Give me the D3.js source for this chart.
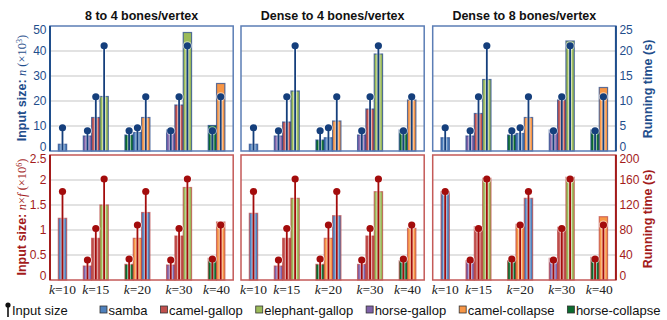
<!DOCTYPE html>
<html><head><meta charset="utf-8">
<script src="https://cdn.jsdelivr.net/npm/d3@7/dist/d3.min.js"></script>
<style>body{margin:0;background:#fff}</style>
</head><body>
<svg id="c" width="667" height="320" xmlns="http://www.w3.org/2000/svg"></svg>
<script>
// ---------- DATA ----------
const panelTitles = ["8 to 4 bones/vertex", "Dense to 4 bones/vertex", "Dense to 8 bones/vertex"];
const categories = ["10", "15", "20", "30", "40"];
const models = ["samba", "camel-gallop", "elephant-gallop", "horse-gallop", "camel-collapse", "horse-collapse"];
// models present in each k group
const groupModels = [
  ["samba"],
  ["horse-gallop", "camel-gallop", "elephant-gallop"],
  ["samba", "camel-collapse", "horse-collapse"],
  ["horse-gallop", "camel-gallop", "elephant-gallop"],
  ["camel-collapse", "horse-collapse"]
];
// input sizes, aligned with models
const inputN  = [9.3, 21.7, 42.1, 8.1, 21.7, 8.1];     // n (x10^3)
const inputNF = [1.77, 1.03, 2.02, 0.40, 1.10, 0.42];  // n x f (x10^6)
// running times (s), aligned with groupModels
const timeN_8to4 = [[1.35], [3.0, 6.7, 10.9], [3.7, 6.7, 3.2], [4.2, 9.2, 23.7], [13.5, 5.1]];
const timeN_D4   = [[1.35], [3.0, 5.8, 12.0], [2.65, 6.0, 2.2], [3.2, 8.4, 19.4], [10.2, 4.2]];
const timeN_D8   = [[2.65], [3.0, 7.5, 14.3], [3.5, 6.7, 3.2], [4.2, 10.2, 22.0], [12.7, 4.2]];
const timeNF_8to4 = [[98.7], [22.4, 66.7, 120], [108, 66.7, 25], [24, 70.4, 148], [92.8, 34.7]];
const timeNF_D4   = [[106.7], [22.4, 66.7, 130.7], [102.9, 66.7, 25], [25, 70.4, 141.3], [82.7, 30.9]];
const timeNF_D8   = [[141.3], [30.9, 85.3, 162.7], [130.7, 89, 30.9], [34.7, 84.3, 164.3], [101.3, 36.3]];
const ticksNLeft = [0, 10, 20, 30, 40, 50];
const ticksNRight = [0, 5, 10, 15, 20, 25];
const ticksNFLeft = [0, 0.5, 1, 1.5, 2, 2.5];
const ticksNFRight = [0, 40, 80, 120, 160, 200];

// ---------- STYLE / LAYOUT ----------
const colors = {
  "samba": "#4f81bd", "camel-gallop": "#c0504d", "elephant-gallop": "#9bbb59",
  "horse-gallop": "#7f62a8", "camel-collapse": "#f79646", "horse-collapse": "#0b6b2e"
};
const colX = [50, 241, 432.7], colW = 183.2;
const rows = [
  { y0: 26, y1: 151, input: inputN, times: [timeN_8to4, timeN_D4, timeN_D8],
    lTicks: ticksNLeft, rTicks: ticksNRight,
    dark: "#1f4e8c", frame: "#5b7db5", barStroke: "rgba(40,75,140,0.75)", lolli: "#153f7c" },
  { y0: 155, y1: 280, input: inputNF, times: [timeNF_8to4, timeNF_D4, timeNF_D8],
    lTicks: ticksNFLeft, rTicks: ticksNFRight,
    dark: "#a31b1b", frame: "#c45a58", barStroke: "rgba(185,60,60,0.65)", lolli: "#a30c0c" }
];

const svg = d3.select("#c");
const sans = "'Liberation Sans', Arial, sans-serif";
const serif = "'Liberation Serif', 'Times New Roman', serif";

rows.forEach((r, ri) => {
  colX.forEach((x0, c) => {
    const x1 = x0 + colW;
    const groups = categories.map((k, gi) => {
      const bars = groupModels[gi].map((m, i) => ({
        k, m, id: k + "|" + m,
        input: r.input[models.indexOf(m)],
        time: r.times[c][gi][i]
      }));
      bars.sort((a, b) => d3.ascending(a.input, b.input));
      return { k, bars };
    });
    const slots = ["pad-s"];
    groups.forEach((g, gi) => {
      if (gi > 0) slots.push("gap" + gi + "a", "gap" + gi + "b");
      g.bars.forEach(b => slots.push(b.id));
    });
    slots.push("pad-e");
    const xb = d3.scaleBand().domain(slots).range([x0, x1]);
    const bw = xb.bandwidth();
    const yL = d3.scaleLinear().domain(d3.extent(r.lTicks)).range([r.y1, r.y0]);
    const yR = d3.scaleLinear().domain(d3.extent(r.rTicks)).range([r.y1, r.y0]);

    const g = svg.append("g");
    g.selectAll("line.grid").data(r.lTicks.slice(1, -1)).join("line")
      .attr("x1", x0).attr("x2", x1)
      .attr("y1", d => yL(d)).attr("y2", d => yL(d))
      .attr("stroke", "#d9d9d9").attr("stroke-width", 1.5);

    const allBars = groups.flatMap(gr => gr.bars);
    g.selectAll("rect.bar").data(allBars).join("rect")
      .attr("x", d => xb(d.id)).attr("width", bw)
      .attr("y", d => yR(d.time)).attr("height", d => r.y1 - yR(d.time))
      .attr("fill", d => colors[d.m])
      .attr("stroke", r.barStroke).attr("stroke-width", 1.2);

    const cx = d => xb(d.id) + bw / 2;
    g.selectAll("line.halo").data(allBars).join("line")
      .attr("x1", cx).attr("x2", cx).attr("y1", r.y1).attr("y2", d => yL(d.input))
      .attr("stroke", "rgba(255,255,255,0.55)").attr("stroke-width", 4);
    g.selectAll("circle.halo").data(allBars).join("circle")
      .attr("cx", cx).attr("cy", d => yL(d.input)).attr("r", 4.6)
      .attr("fill", "rgba(255,255,255,0.55)");
    g.selectAll("line.stick").data(allBars).join("line")
      .attr("x1", cx).attr("x2", cx).attr("y1", r.y1).attr("y2", d => yL(d.input))
      .attr("stroke", r.lolli).attr("stroke-width", 1.8);
    g.selectAll("circle.head").data(allBars).join("circle")
      .attr("cx", cx).attr("cy", d => yL(d.input)).attr("r", 3.6)
      .attr("fill", r.lolli);

    g.append("rect").attr("x", x0).attr("y", r.y0).attr("width", colW).attr("height", r.y1 - r.y0)
      .attr("fill", "none").attr("stroke", r.frame).attr("stroke-width", 1.5);

    if (c === 0) {
      g.append("line").attr("x1", x0).attr("x2", x0).attr("y1", r.y0).attr("y2", r.y1)
        .attr("stroke", r.dark).attr("stroke-width", 2);
      g.selectAll("text.lt").data(r.lTicks).join("text")
        .attr("x", x0 - 3.5)
        .attr("y", d => Math.min(Math.max(yL(d), r.y0 + 4), r.y1 - 4.5))
        .attr("dy", "0.36em").attr("text-anchor", "end")
        .attr("font-family", sans).attr("font-size", 12).attr("fill", r.dark)
        .text(d => d3.format("~g")(d));
    }
    if (c === 2) {
      g.append("line").attr("x1", x1).attr("x2", x1).attr("y1", r.y0).attr("y2", r.y1)
        .attr("stroke", r.dark).attr("stroke-width", 2);
      g.selectAll("text.rt").data(r.rTicks).join("text")
        .attr("x", x1 + 3.5)
        .attr("y", d => Math.min(Math.max(yR(d), r.y0 + 4), r.y1 - 4.5))
        .attr("dy", "0.36em").attr("text-anchor", "start")
        .attr("font-family", sans).attr("font-size", 12).attr("fill", r.dark)
        .text(d => d3.format("~g")(d));
    }

    if (ri === 0) {
      svg.append("text").attr("x", x0 + colW / 2).attr("y", 19.5).attr("text-anchor", "middle")
        .attr("font-family", sans).attr("font-weight", "bold").attr("font-size", 12.5)
        .attr("fill", "#111").text(panelTitles[c]);
    }
    if (ri === 1) {
      groups.forEach(gr => {
        const cxm = d3.mean(gr.bars, b => xb(b.id) + bw / 2);
        const t = svg.append("text").attr("x", cxm).attr("y", 294).attr("text-anchor", "middle")
          .attr("font-family", serif).attr("font-size", 13.5).attr("fill", "#222");
        t.append("tspan").attr("font-style", "italic").text("k");
        t.append("tspan").text("=" + gr.k);
      });
    }
  });
});

function leftTitle(cy, color, isNF) {
  const t = svg.append("text").attr("transform", `translate(26,${cy}) rotate(-90)`)
    .attr("text-anchor", "middle").attr("font-size", 12.5).attr("fill", color);
  t.append("tspan").attr("font-family", sans).attr("font-weight", "bold").text("Input size: ");
  t.append("tspan").attr("font-family", serif).attr("font-style", "italic").text("n");
  if (isNF) {
    t.append("tspan").attr("font-family", serif).text("\u00d7");
    t.append("tspan").attr("font-family", serif).attr("font-style", "italic").text("f");
  }
  t.append("tspan").attr("font-family", serif).text(" (\u00d710");
  t.append("tspan").attr("font-family", serif).attr("font-size", 8).attr("dy", "-0.5em").text(isNF ? "6" : "3");
  t.append("tspan").attr("font-family", serif).attr("dy", "0.35em").text(")");
}
leftTitle(88, rows[0].dark, false);
leftTitle(217, rows[1].dark, true);
[89, 219].forEach((cy, i) => {
  svg.append("text").attr("transform", `translate(652,${cy}) rotate(-90)`)
    .attr("text-anchor", "middle").attr("font-family", sans).attr("font-weight", "bold")
    .attr("font-size", 12.5).attr("fill", rows[i].dark).text("Running time (s)");
});

// legend
const ly = 315;
const leg = svg.append("g");
leg.append("line").attr("x1", 8).attr("x2", 8).attr("y1", 305).attr("y2", 317).attr("stroke", "#111").attr("stroke-width", 1.6);
leg.append("circle").attr("cx", 8).attr("cy", 305).attr("r", 2.6).attr("fill", "#111");
leg.append("text").attr("x", 12).attr("y", ly).attr("font-family", sans).attr("font-size", 13).attr("fill", "#111").text("Input size");
let lx = 100;
models.forEach(m => {
  leg.append("rect").attr("x", lx).attr("y", ly - 9).attr("width", 7).attr("height", 7)
    .attr("fill", colors[m]).attr("stroke", "#333").attr("stroke-width", 0.8);
  const t = leg.append("text").attr("x", lx + 8.5).attr("y", ly).attr("font-family", sans)
    .attr("font-size", 13).attr("fill", "#111").text(m);
  lx += 8.5 + t.node().getComputedTextLength() + 13;
});
</script>
</body></html>
